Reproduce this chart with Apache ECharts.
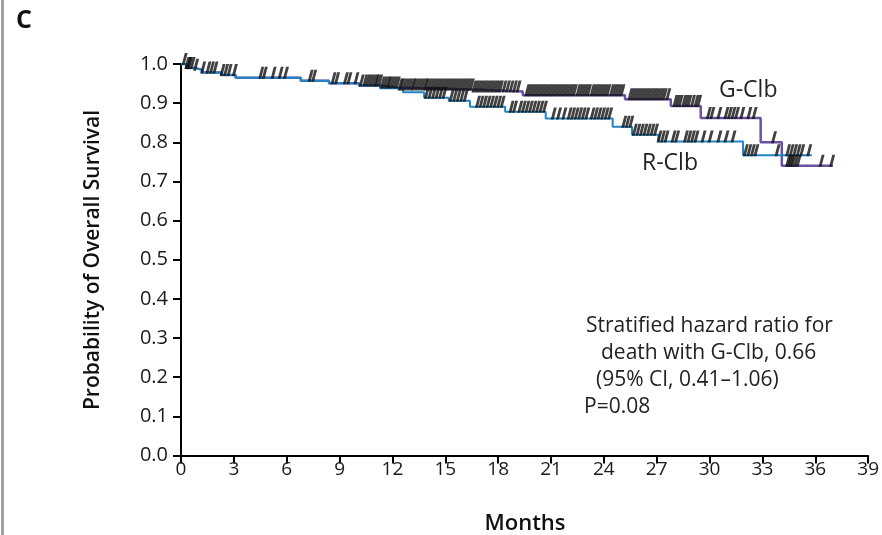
<!DOCTYPE html>
<html>
<head>
<meta charset="utf-8">
<script src="https://cdn.jsdelivr.net/npm/echarts@6/dist/echarts.min.js"></script>
<style>
  html, body { margin: 0; padding: 0; background: #fff; }
  #main { width: 882px; height: 535px; }
</style>
</head>
<body>
<div id="main"></div>
<script>
// step points [month, survival]
var gclbSteps = [[0, 1.0], [0.3, 0.99], [0.8, 0.985], [1.2, 0.978], [2.3, 0.972], [3.1, 0.965], [6.8, 0.957],
  [8.4, 0.951], [10.1, 0.945], [11.3, 0.94], [12.3, 0.935], [16.5, 0.93], [19.4, 0.92], [25.2, 0.91],
  [27.8, 0.893], [29.5, 0.862], [32.9, 0.80], [34.1, 0.74], [37.0, 0.74]];
var rclbSteps = [[0, 1.0], [0.3, 0.99], [0.8, 0.985], [1.2, 0.978], [2.3, 0.972], [3.1, 0.965], [6.8, 0.957],
  [8.4, 0.951], [10.1, 0.945], [11.3, 0.938], [12.6, 0.928], [13.8, 0.914], [15.2, 0.906], [16.4, 0.891],
  [18.4, 0.878], [20.7, 0.861], [24.5, 0.84], [25.6, 0.819], [27.1, 0.802], [31.9, 0.767], [35.8, 0.767]];

// censoring times (months)
var gclbCensor = [0.15, 0.3, 0.45, 0.6, 0.8, 1.5, 1.7, 1.9, 2.3, 2.5, 2.7, 4.5, 4.7, 5.2, 5.6, 5.9, 7.3, 7.5,
  8.6, 8.8, 9.3, 9.5, 9.9, 10.2,
  10.4, 10.55, 10.7, 10.85, 11.0, 11.1, 11.25, 11.4, 11.55, 11.7, 11.8, 11.95, 12.1, 12.25, 12.4, 12.5, 12.65,
  12.8, 12.95, 13.1, 13.2, 13.35, 13.5, 13.65, 13.8, 13.9, 14.05, 14.2, 14.35, 14.5, 14.65, 14.8, 14.95, 15.1,
  15.25, 15.4, 15.55, 15.7, 15.85, 16.0, 16.15, 16.3, 16.45, 16.6, 16.75, 16.9, 17.05, 17.2, 17.35, 17.5,
  17.65, 17.8, 17.95, 18.1, 18.3, 18.5, 18.7, 18.9, 19.1,
  19.6, 19.75, 19.9, 20.05, 20.2, 20.35, 20.5, 20.65, 20.8, 20.95, 21.1, 21.25, 21.4, 21.55, 21.7, 21.85, 22.0,
  22.15, 22.3, 22.5, 22.65, 22.8, 22.95, 23.1, 23.3, 23.45, 23.6, 23.75, 23.9, 24.05, 24.2, 24.4, 24.55, 24.7,
  24.85, 25.0,
  25.45, 25.6, 25.75, 25.9, 26.05, 26.2, 26.35, 26.5, 26.65, 26.8, 26.95, 27.1, 27.25, 27.4, 27.6,
  28.0, 28.15, 28.3, 28.5, 28.65, 28.8, 29.0, 29.2, 29.35,
  29.9, 30.1, 30.5, 30.9, 31.1, 31.3, 31.5, 31.8, 32.2, 32.5, 33.6, 34.4, 34.5, 34.6, 34.7, 34.85, 35.0, 36.3, 36.9];
var rclbCensor = [0.4, 1.2, 3.0, 13.9, 14.1, 14.3, 14.5, 14.7, 14.9,
  15.3, 15.5, 15.7, 15.9, 16.1, 16.8, 17.0, 17.2, 17.4, 17.6, 17.8, 18.0, 18.2,
  18.7, 18.9, 19.2, 19.4, 19.6, 19.8, 20.0, 20.2, 20.4, 20.6,
  21.1, 21.4, 21.7, 22.0, 22.2, 22.4, 22.6, 22.8, 23.0, 23.3, 23.5, 23.7, 23.9, 24.1, 24.3,
  25.1, 25.3, 25.5, 25.7, 25.9, 26.1, 26.3, 26.5, 26.7, 26.9, 27.1, 27.3, 27.5,
  27.9, 28.1, 28.6, 28.8, 29.0, 29.2, 29.6, 30.0, 30.5, 30.9, 31.3,
  32.0, 32.2, 32.4, 32.6, 33.8, 34.4, 34.6, 34.8, 35.0, 35.2, 35.6];

var xTicks = [0, 3, 6, 9, 12, 15, 18, 21, 24, 27, 30, 33, 36, 39];

// survival at time t from the step list
function survAt(steps, t) {
  var v = steps[0][1];
  for (var i = 0; i < steps.length; i++) {
    if (steps[i][0] <= t) v = steps[i][1];
  }
  return v;
}
function censorPoints(steps, times) {
  return times.map(function (t) { return [t, survAt(steps, t)]; });
}

var font = '"Open Sans", sans-serif';
var slash = 'path://M3.4,0 L6.5,0 L3.1,12 L0,12 Z';

var chart = echarts.init(document.getElementById('main'), null, { renderer: 'canvas' });
var option = {
  animation: false,
  grid: { left: 181, right: 12, top: 64, bottom: 79.5, containLabel: false },
  xAxis: {
    type: 'value', min: 0, max: 39, interval: 3,
    axisLine: { show: true, onZero: false, lineStyle: { color: '#000', width: 2 } },
    axisTick: { show: true, length: 8, lineStyle: { color: '#000', width: 2 } },
    axisLabel: { color: '#1a1a1a', fontFamily: font, fontSize: 19, margin: 5,
      customValues: xTicks },
    splitLine: { show: false }
  },
  yAxis: {
    type: 'value', min: 0, max: 1, interval: 0.1,
    axisLine: { show: true, onZero: false, lineStyle: { color: '#000', width: 2 } },
    axisTick: { show: true, length: 8, lineStyle: { color: '#000', width: 2 } },
    axisLabel: { color: '#1a1a1a', fontFamily: font, fontSize: 20, margin: 13,
      formatter: function (v) { return v.toFixed(1); } },
    splitLine: { show: false }
  },
  series: [
    { name: 'G-Clb', type: 'line', step: 'end', data: gclbSteps, showSymbol: false, z: 2,
      lineStyle: { color: '#6a52a3', width: 2.5 } },
    { name: 'R-Clb', type: 'line', step: 'end', data: rclbSteps, showSymbol: false, z: 3,
      lineStyle: { color: '#1e86c6', width: 2 } },
    { name: 'G-Clb censored', type: 'scatter', data: censorPoints(gclbSteps, gclbCensor), z: 4,
      symbol: slash, symbolSize: [6, 12], symbolOffset: [1, -5],
      itemStyle: { color: '#111' } },
    { name: 'R-Clb censored', type: 'scatter', data: censorPoints(rclbSteps, rclbCensor), z: 4,
      symbol: slash, symbolSize: [6, 12], symbolOffset: [1, -5],
      itemStyle: { color: '#111' } }
  ],
  graphic: [
    { type: 'rect', shape: { x: 1, y: 0, width: 3, height: 535 }, style: { fill: '#a0a0a0' } },
    { type: 'text', left: 16, top: 8, style: { text: 'C', font: 'bold 25px ' + font, fill: '#111' } },
    { type: 'text', x: 93, y: 260, rotation: Math.PI / 2,
      style: { text: 'Probability of Overall Survival', font: '600 21px ' + font, fill: '#111',
        align: 'center', verticalAlign: 'middle' } },
    { type: 'text', x: 525, y: 524,
      style: { text: 'Months', font: '600 22px ' + font, fill: '#111', align: 'center', verticalAlign: 'middle' } },
    { type: 'text', x: 719, y: 90, style: { text: 'G-Clb', font: '23px ' + font, fill: '#222', verticalAlign: 'middle' } },
    { type: 'text', x: 642, y: 163, style: { text: 'R-Clb', font: '23px ' + font, fill: '#222', verticalAlign: 'middle' } },
    { type: 'text', x: 586, y: 326, style: { text: 'Stratified hazard ratio for', font: '21px ' + font, fill: '#222', verticalAlign: 'middle' } },
    { type: 'text', x: 601, y: 353, style: { text: 'death with G-Clb, 0.66', font: '21px ' + font, fill: '#222', verticalAlign: 'middle' } },
    { type: 'text', x: 596, y: 380, style: { text: '(95% CI, 0.41\u20131.06)', font: '21px ' + font, fill: '#222', verticalAlign: 'middle' } },
    { type: 'text', x: 584, y: 407, style: { text: 'P=0.08', font: '21px ' + font, fill: '#222', verticalAlign: 'middle' } }
  ]
};
chart.setOption(option);
</script>
</body>
</html>
